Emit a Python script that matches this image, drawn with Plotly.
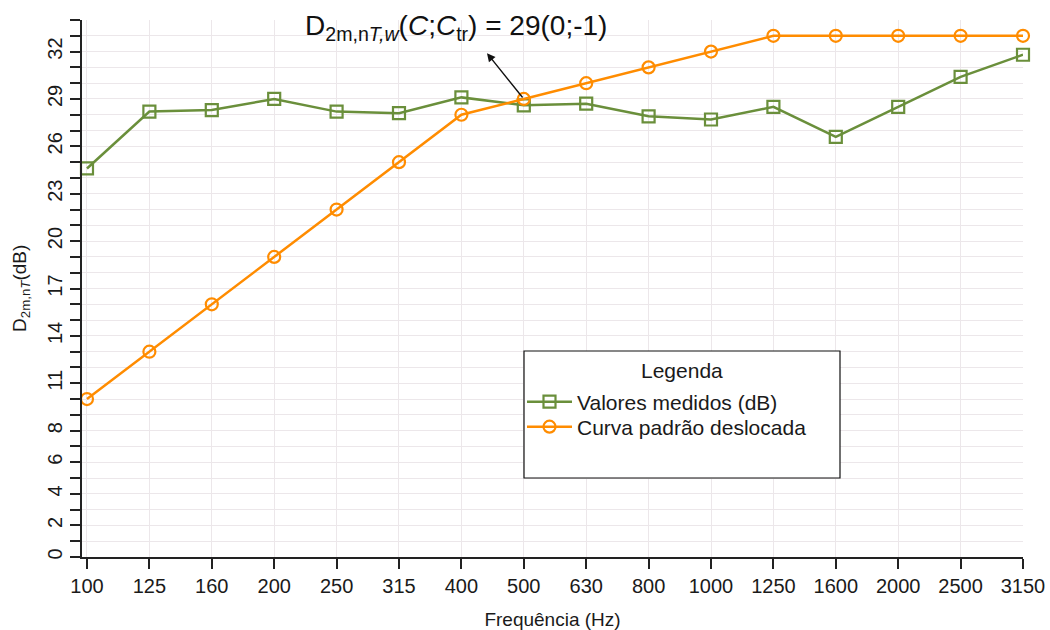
import plotly.graph_objects as go

freqs = ["100", "125", "160", "200", "250", "315", "400", "500", "630", "800",
         "1000", "1250", "1600", "2000", "2500", "3150"]
measured = [24.6, 28.2, 28.3, 29.0, 28.2, 28.1, 29.1, 28.6, 28.7, 27.9,
            27.7, 28.5, 26.6, 28.5, 30.4, 31.8]
reference = [10, 13, 16, 19, 22, 25, 28, 29, 30, 31, 32, 33, 33, 33, 33, 33]
y_labelled = [0, 2, 4, 6, 8, 11, 14, 17, 20, 23, 26, 29, 32]

FONT = "Liberation Sans, Arial, sans-serif"
GREEN = "#6a8f3b"
ORANGE = "#ff8c00"
GRID = "#ece7ea"
TXT = "#1a1a1a"

W, H = 1050, 630
L, R, T, B = 82, 27, 20, 73
pw, ph = W - L - R, H - T - B

def px(x):
    return (x - L) / pw

def py(y):
    return (H - B - y) / ph

fig = go.Figure()
fig.add_trace(go.Scatter(
    x=freqs, y=measured, mode="lines+markers", name="Valores medidos (dB)",
    line=dict(color=GREEN, width=2.5),
    marker=dict(symbol="square-open", size=12, color=GREEN, line=dict(width=2.2, color=GREEN)),
    cliponaxis=False, legend="legend",
))
fig.add_trace(go.Scatter(
    x=freqs, y=reference, mode="lines+markers", name="Curva padrão deslocada",
    line=dict(color=ORANGE, width=2.5),
    marker=dict(symbol="circle-open", size=12, color=ORANGE, line=dict(width=2.2, color=ORANGE)),
    cliponaxis=False, legend="legend2",
))

leg_common = dict(xanchor="left", yanchor="middle", bgcolor="rgba(0,0,0,0)", borderwidth=0,
                  font=dict(family=FONT, size=21, color=TXT), itemwidth=45)

fig.update_layout(
    width=W, height=H, autosize=False,
    margin=dict(l=L, r=R, t=T, b=B),
    plot_bgcolor="white", paper_bgcolor="white",
    font=dict(family=FONT, size=19, color=TXT),
    showlegend=True,
    legend=dict(x=px(522), y=py(402), **leg_common),
    legend2=dict(x=px(522), y=py(427), **leg_common),
)

fig.update_xaxes(
    type="category", range=[-0.08, 15], automargin=False,
    showgrid=True, gridcolor=GRID, gridwidth=1,
    showline=True, linecolor="#222", linewidth=1.5,
    ticks="outside", ticklen=10, tickcolor="#222", tickwidth=1.5,
    tickfont=dict(family=FONT, size=20, color=TXT),
    title=dict(text="Frequência (Hz)", font=dict(family=FONT, size=19, color=TXT), standoff=17),
    zeroline=False,
)
fig.update_yaxes(
    range=[0, 34], automargin=False,
    tickmode="array", tickvals=y_labelled, tickangle=-90,
    showgrid=True, gridcolor=GRID, gridwidth=1,
    showline=True, linecolor="#222", linewidth=1.5,
    ticks="outside", ticklen=10, tickcolor="#222", tickwidth=1.5,
    tickfont=dict(family=FONT, size=20, color=TXT),
    minor=dict(tick0=0, dtick=1, ticks="outside", ticklen=10, tickcolor="#222",
               tickwidth=1.5, showgrid=True, gridcolor=GRID, gridwidth=1),
    zeroline=False,
)

# y-axis title
fig.add_annotation(xref="paper", yref="paper", x=px(21), y=py(288),
                   xanchor="center", yanchor="middle", textangle=-90,
                   text="D<sub>2m,n<i>T</i></sub>(dB)", showarrow=False,
                   font=dict(family=FONT, size=19, color=TXT))

# legend frame and title
fig.add_shape(type="rect", xref="paper", yref="paper",
              x0=px(524), x1=px(840), y0=py(478), y1=py(351),
              line=dict(color="#111", width=1.2), fillcolor="white", layer="above")
fig.add_annotation(xref="paper", yref="paper", x=px(682), y=py(370),
                   xanchor="center", yanchor="middle",
                   text="Legenda", showarrow=False,
                   font=dict(family=FONT, size=21, color=TXT))

# rating annotation
fig.add_annotation(xref="paper", yref="paper", x=px(456), y=py(27),
                   xanchor="center", yanchor="middle",
                   text="D<sub>2m,n<i>T,w</i></sub>(<i>C</i>;<i>C</i><sub>tr</sub>) = 29(0;-1)",
                   showarrow=False, font=dict(family=FONT, size=28, color="#111"))
fig.add_annotation(x=6.41, y=31.9, ax=7, ay=29, axref="x", ayref="y",
                   text="", showarrow=True, arrowhead=2, arrowsize=1.2,
                   arrowwidth=1.4, arrowcolor="#111")

fig.write_html("out.html", config={"displayModeBar": False},
               post_script="document.body.style.margin='0px';")
